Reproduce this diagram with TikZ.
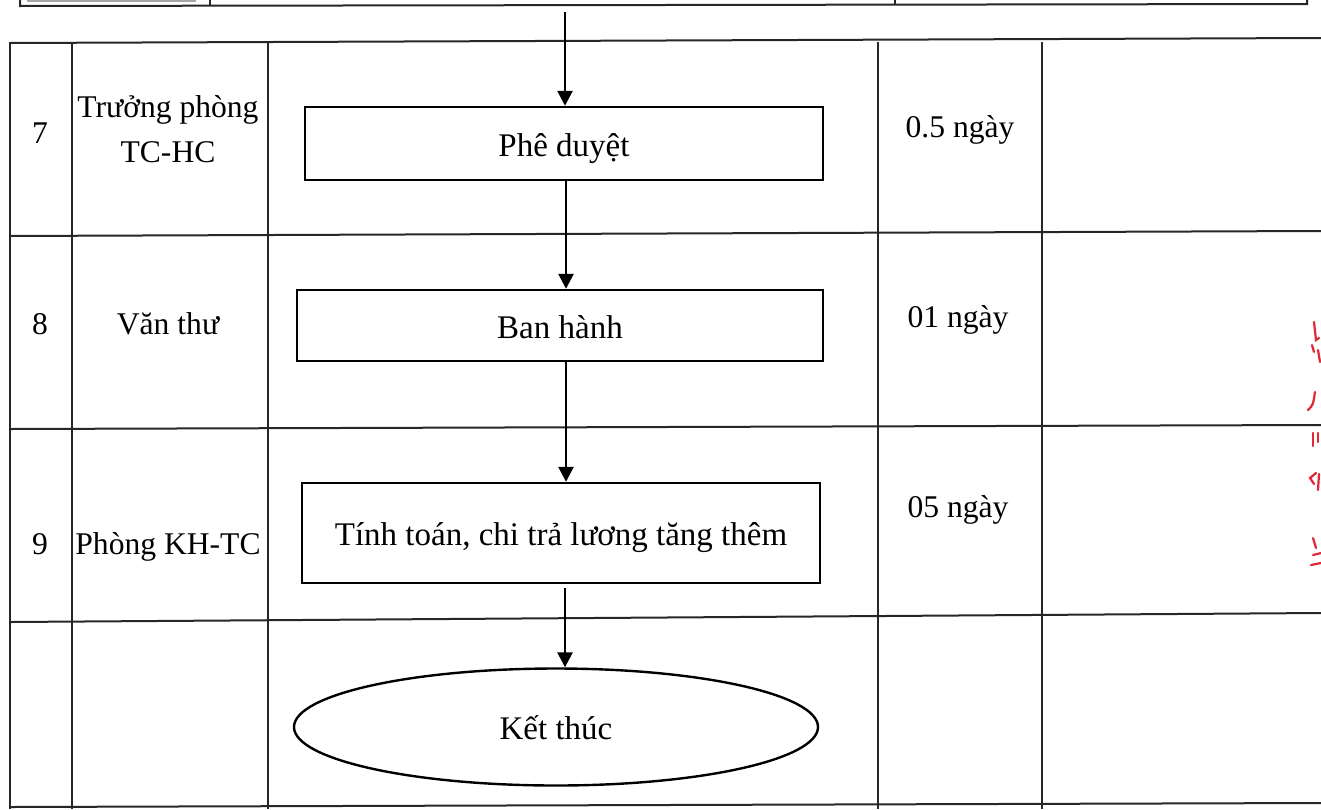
\documentclass[tikz,border=0pt]{standalone}
\usepackage{fontspec}
\setmainfont{Liberation Serif}
\usetikzlibrary{arrows.meta,shapes.geometric}
\definecolor{stampred}{RGB}{225,40,50}
\tikzset{
  grid/.style={line width=1pt,black!85},
  stepbox/.style={draw,line width=1.2pt,rectangle,inner sep=0pt,text height=16pt,text depth=3.5pt,font=\fontsize{16.5}{19}\selectfont},
  endbox/.style={draw,line width=1.2pt,ellipse,inner sep=0pt,text height=16pt,text depth=3.5pt,font=\fontsize{16.5}{19}\selectfont},
  cell/.style={inner sep=0pt,text height=13pt,text depth=3.5pt,font=\fontsize{15.8}{18}\selectfont},
  arr/.style={line width=1.3pt,-{Triangle[length=7.5pt,width=7.5pt]}},
  stamp/.style={stampred,line width=1.1pt,line cap=round}
}
\begin{document}
\begin{tikzpicture}[x=0.5pt,y=-0.5pt]
\useasboundingbox (0,0) rectangle (1321,809);
\fill[white] (0,0) rectangle (1321,809);

% bottom edge of the table above
\draw[grid] (20,0) -- (20,6) -- (1307,4) -- (1307,0);
\draw[grid] (210,0) -- (210,6);
\draw[grid] (895,0) -- (895,5);
\draw[black!35,line width=0.6pt] (27,1) -- (196,1);

% table rows
\draw[grid] (10,43) -- (1321,38);
\draw[grid] (10,236) -- (1321,231);
\draw[grid] (10,429) -- (1321,425);
\draw[grid] (10,622) -- (1321,613);
\draw[grid] (10,807) -- (1321,803);
% table columns
\foreach \cx in {10,72,268,878,1042}
  \draw[grid] (\cx,42) -- (\cx,809);

% lane and time cells
\node[cell] (n7) at (40,134) {7};
\node[cell] (r7a) at (168,108) {Trưởng phòng};
\node[cell] (r7b) at (168,153) {TC-HC};
\node[cell] (t7) at (960,128) {0.5 ngày};
\node[cell] (n8) at (40,325) {8};
\node[cell] (r8) at (168,325) {Văn thư};
\node[cell] (t8) at (958,318) {01 ngày};
\node[cell] (n9) at (40,545) {9};
\node[cell] (r9) at (168,545) {Phòng KH-TC};
\node[cell] (t9) at (958,508) {05 ngày};

% flow steps
\node[stepbox,minimum width=259pt,minimum height=36.5pt] (b1) at (564,143.5) {Phê duyệt};
\node[stepbox,minimum width=263pt,minimum height=35.5pt] (b2) at (560,325.5) {Ban hành};
\node[stepbox,minimum width=259pt,minimum height=50pt] (b3) at (561,533) {Tính toán, chi trả lương tăng thêm};
\node[endbox,minimum width=262pt,minimum height=58.5pt] (e) at (556,727) {Kết thúc};

\coordinate (in) at (565,12);
\coordinate (ax) at (566,0);
\coordinate (bx) at (565,0);
\draw[arr] (in) -- (in |- b1.north);
\draw[arr] (b1.south -| ax) -- (b2.north -| ax);
\draw[arr] (b2.south -| ax) -- (b3.north -| ax);
\draw[arr] ([yshift=-2pt]b3.south -| bx) -- (e.north -| bx);

% stamp fragment at the right margin
\draw[stamp] (1314,322) -- (1316,340) -- (1319,338);
\draw[stamp] (1312,345) -- (1314,352);
\draw[stamp] (1318,350) -- (1320,362);
\draw[stamp] (1315,392) .. controls (1313,405) .. (1308,410);
\draw[stamp] (1313,433) -- (1313,446);
\draw[stamp] (1318,433) -- (1318,442);
\draw[stamp] (1316,473) -- (1310,478) -- (1314,484);
\draw[stamp] (1319,474) -- (1318,490);
\draw[stamp] (1313,538) -- (1316,548);
\draw[stamp] (1313,555) -- (1321,553);
\draw[stamp] (1311,565) -- (1321,563);
\end{tikzpicture}
\end{document}
